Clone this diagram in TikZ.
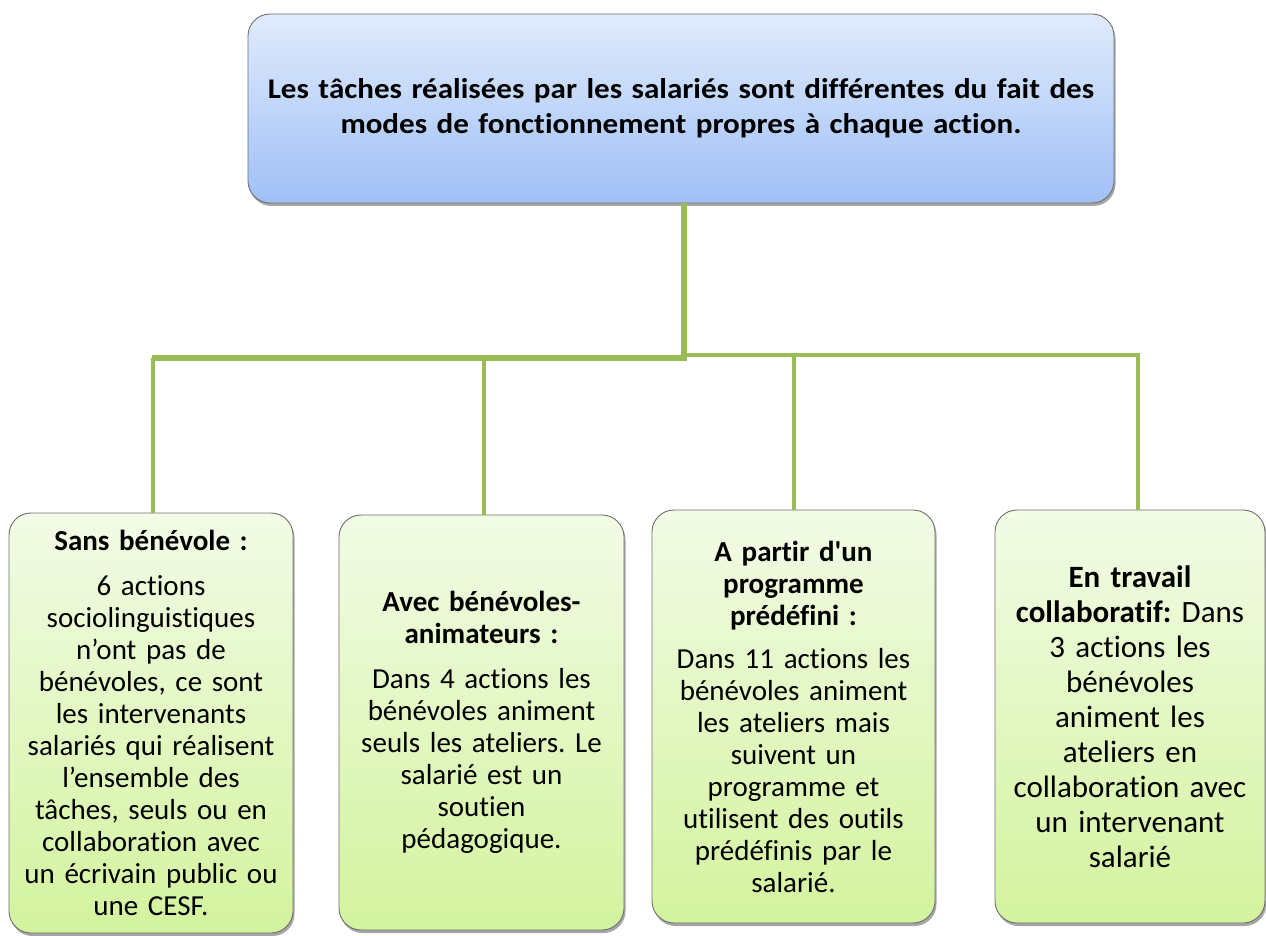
\documentclass[tikz,border=0pt]{standalone}
\usepackage{fontspec}
\setmainfont{Carlito}[Ligatures={NoCommon}, WordSpace=0.75]
\newfontfamily\topfont{Carlito}[Ligatures={NoCommon}, WordSpace=0.7, FakeStretch=1.09]
\usetikzlibrary{shadows}
\definecolor{blueTop}{HTML}{E0EBFC}
\definecolor{blueBot}{HTML}{A0C0F6}
\definecolor{greenTop}{HTML}{F2FBE6}
\definecolor{greenBot}{HTML}{D3F39E}
\definecolor{connGreen}{HTML}{9BBB59}
\definecolor{edgeGray}{HTML}{6F6F6F}
\frenchspacing
\begin{document}
\begin{tikzpicture}[x=1pt,y=-1pt,
  boxbase/.style={rounded corners=22pt, draw=edgeGray, line width=0.9pt, inner sep=0pt, align=center,
    drop shadow={shadow xshift=1.5pt, shadow yshift=-3pt, opacity=0.35, fill=black}},
  topbox/.style={boxbase, top color=blueTop, bottom color=blueBot, font=\topfont\fontsize{28.5}{35}\selectfont\bfseries},
  leafbox/.style={boxbase, top color=greenTop, bottom color=greenBot, font=\fontsize{29}{32}\selectfont},
  bigleaf/.style={boxbase, top color=greenTop, bottom color=greenBot, font=\fontsize{31}{35}\selectfont},
  conn/.style={draw=connGreen, line width=3.5pt},
  bar/.style={draw=connGreen, line width=5.5pt}]
\useasboundingbox (0,0) rectangle (1266,936);

\node[topbox, minimum width=866pt, minimum height=189pt, text width=850pt] (top) at (681,108.5)
  {Les tâches réalisées par les salariés sont différentes du fait des\\modes de fonctionnement propres à chaque action.};

\node[leafbox, minimum width=284pt, minimum height=420pt, text width=276pt] (b1) at (151,723)
  {\textbf{Sans bénévole :}\\[13pt]6 actions\\sociolinguistiques\\n’ont pas de\\bénévoles, ce sont\\les intervenants\\salariés qui réalisent\\l’ensemble des\\tâches, seuls ou en\\collaboration avec\\un écrivain public ou\\une CESF.};

\node[leafbox, minimum width=285pt, minimum height=415pt, text width=277pt] (b2) at (481.5,722.5)
  {\textbf{Avec bénévoles-}\\\textbf{animateurs :}\\[13pt]Dans 4 actions les\\bénévoles animent\\seuls les ateliers. Le\\salarié est un\\soutien\\pédagogique.};

\node[leafbox, minimum width=283pt, minimum height=413pt, text width=275pt] (b3) at (793.5,716.5)
  {\textbf{A partir d\textquotesingle un}\\\textbf{programme}\\\textbf{prédéfini :}\\[11pt]Dans 11 actions les\\bénévoles animent\\les ateliers mais\\suivent un\\programme et\\utilisent des outils\\prédéfinis par le\\salarié.};

\node[bigleaf, minimum width=270pt, minimum height=413pt, text width=262pt] (b4) at (1130,716.5)
  {\textbf{En travail}\\\textbf{collaboratif:} Dans\\3 actions les\\bénévoles\\animent les\\ateliers en\\collaboration avec\\un intervenant\\salarié};

\coordinate (hubL) at (684,358);
\coordinate (hubR) at (684,355);
\coordinate (j1) at (153,358);
\coordinate (j2) at (484,358);
\coordinate (j3) at (794,355);
\coordinate (j4) at (1138,355);

\draw[conn] (j1) -- (j1 |- b1.north);
\draw[conn] (j2) -- (j2 |- b2.north);
\draw[conn] (j3) -- (j3 |- b3.north);
\draw[conn] (j4) -- (j4 |- b4.north);
\draw[bar] (top.south -| hubL) -- (hubL);
\draw[bar] ([xshift=-1.5pt]j1) -- ([xshift=2.75pt]hubL);
\draw[bar, line width=4.5pt] (hubR) -- ([xshift=1.75pt]j4);
\end{tikzpicture}
\end{document}
